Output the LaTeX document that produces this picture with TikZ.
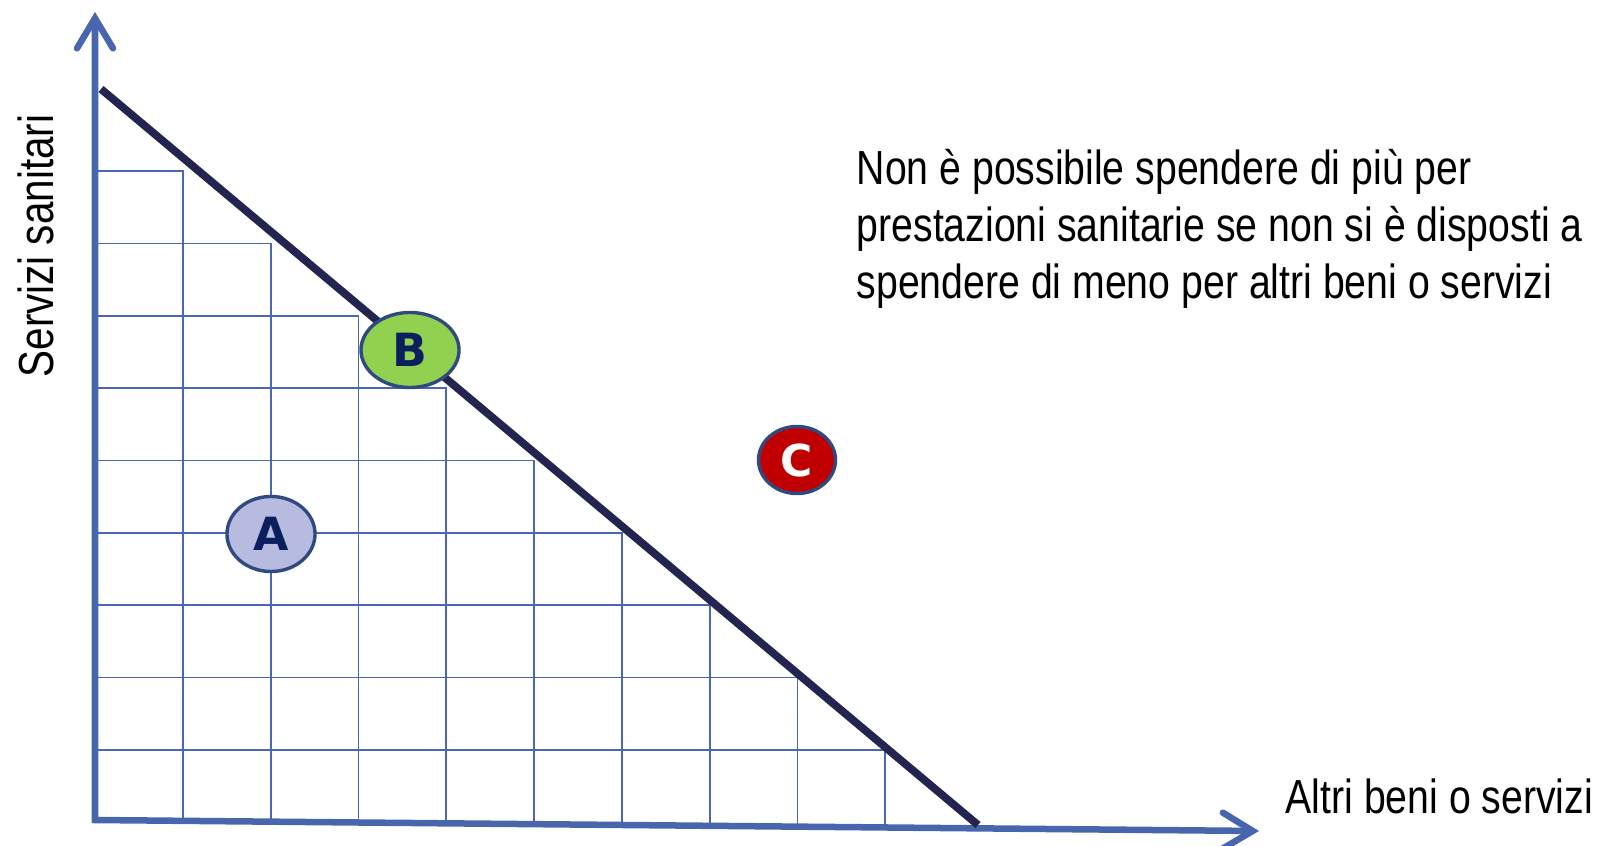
\documentclass[tikz,border=0pt]{standalone}
\usepackage{fontspec}
\setmainfont{Liberation Sans}[FakeStretch=0.82]
\newfontfamily\letterfont{DejaVu Sans}
\usetikzlibrary{arrows.meta,shapes.geometric}
\definecolor{axisblue}{HTML}{4866AD}
\definecolor{gridblue}{HTML}{4A68B2}
\definecolor{budgetnavy}{HTML}{23244F}
\definecolor{rimblue}{HTML}{2F4A80}
\definecolor{textnavy}{HTML}{0B1F5E}
\definecolor{fillA}{HTML}{B7BBDF}
\definecolor{fillB}{HTML}{92D050}
\definecolor{fillC}{HTML}{C00000}
\begin{document}
\begin{tikzpicture}[x=0.01cm, y=-0.01cm,
  every node/.style={font=\fontsize{13.6pt}{16.1pt}\selectfont, inner sep=0pt},
  point/.style={ellipse, draw=rimblue, line width=0.034cm, text=textnavy,
    font=\letterfont\bfseries\fontsize{13pt}{14pt}\selectfont},
  >={Straight Barb[length=0.3cm, width=0.36cm, line cap=round]}]
\useasboundingbox (0,0) rectangle (1601,846);
% Staircase grid below the budget line
\foreach \k in {1,...,9}{
  \draw[gridblue, line width=0.018cm] (95,{822-72.3*(10-\k)}) -| ({95+87.8*\k},{820+0.83*\k});
}
% Axes
\coordinate (O) at (95,820);
\coordinate (ytip) at (95,12);
\coordinate (xtip) at (1259,831);
\draw[axisblue, line width=0.065cm, <->] (ytip) -- (O) -- (xtip);
% Budget line
\coordinate (bs) at (101,89);
\coordinate (be) at (978,825);
\draw[budgetnavy, line width=0.078cm] (bs) -- (be);
% Points A, B, C
\node[point, fill=fillA, minimum width=0.88cm, minimum height=0.75cm] (A) at (271,534) {A};
\node[point, fill=fillB, minimum width=0.98cm, minimum height=0.75cm] (B) at (410,350) {B};
\node[point, fill=fillC, text=white, minimum width=0.77cm, minimum height=0.67cm,
  font=\letterfont\bfseries\fontsize{12.5pt}{13pt}\selectfont] (C) at (797,460) {C};
% Labels
\node[anchor=base west] (xlab) at (1285,813) {Altri beni o servizi};
\node[anchor=base west, rotate=90, font=\fontsize{14pt}{16pt}\selectfont] (ylab) at (53,378) {Servizi sanitari};
\node[anchor=base west, align=left] (note) at (856,298) {Non è possibile spendere di più per\\prestazioni sanitarie se non si è disposti a\\spendere di meno per altri beni o servizi};
\end{tikzpicture}
\end{document}
